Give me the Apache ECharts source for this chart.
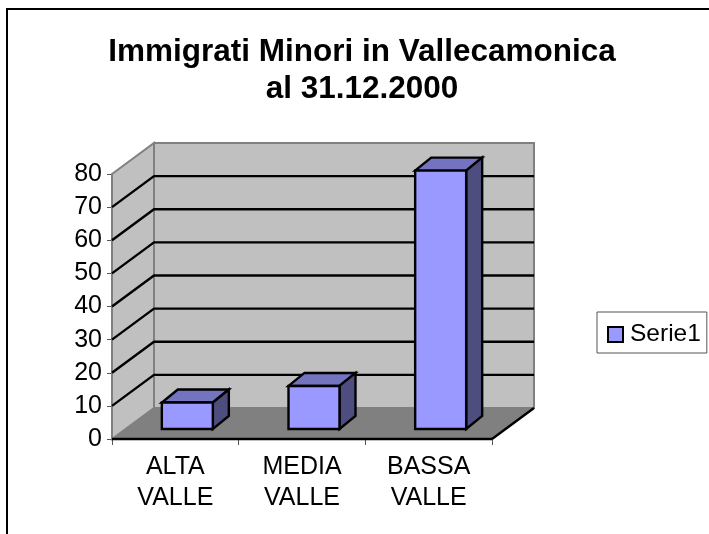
<!DOCTYPE html>
<html>
<head>
<meta charset="utf-8">
<title>Immigrati Minori in Vallecamonica</title>
<style>
    html, body {margin: 0; padding: 0; background: #fff;}
    #chart {width: 709px; height: 534px;}
</style>
<script src="https://cdn.jsdelivr.net/npm/echarts@6/dist/echarts.min.js"></script>
</head>
<body>
<div id="chart"></div>
<script>
const titleText = 'Immigrati Minori in Vallecamonica\nal 31.12.2000';
const categories = ['ALTA\nVALLE', 'MEDIA\nVALLE', 'BASSA\nVALLE'];
const seriesName = 'Serie1';
const values = [8, 13, 78];
const gridTicks = [10, 20, 30, 40, 50, 60, 70];

const fontName = '"Liberation Sans", Arial, sans-serif';

// finta prospettiva 3D, in pixel
const depthX = 42;
const depthY = 31;
const barShiftX = 12;
const barShiftY = 10;
const barWidth = 51;
const barDepthX = 16;
const barDepthY = 13;

const wallColor = '#c0c0c0';
const floorColor = '#808080';
const edgeColor = '#808080';

function poly(points, fill, stroke, width) {
    return {
        type: 'polygon',
        shape: {points: points},
        style: {fill: fill, stroke: stroke, lineWidth: width}
    };
}

function line(points) {
    return {
        type: 'polyline',
        shape: {points: points},
        style: {fill: 'none', stroke: '#000', lineWidth: 2.4}
    };
}

// pareti e pavimento
function renderWalls(params) {
    const c = params.coordSys;
    const x0 = c.x, x1 = c.x + c.width, y0 = c.y, y1 = c.y + c.height;
    return {
        type: 'group',
        children: [
            poly([[x0 + depthX, y0 - depthY], [x1 + depthX, y0 - depthY], [x1 + depthX, y1 - depthY], [x0 + depthX, y1 - depthY]], wallColor, edgeColor, 2),
            poly([[x0, y0], [x0 + depthX, y0 - depthY], [x0 + depthX, y1 - depthY], [x0, y1]], wallColor, edgeColor, 2),
            poly([[x0, y1], [x1, y1], [x1 + depthX, y1 - depthY], [x0 + depthX, y1 - depthY]], floorColor, edgeColor, 1),
            line([[x1, y1], [x1 + depthX, y1 - depthY]]),
            line([[x0, y1], [x1, y1]])
        ]
    };
}

function renderGridLine(params, api) {
    const c = params.coordSys;
    const y = api.coord([0, api.value(0)])[1];
    return line([
        [c.x, y],
        [c.x + depthX, y - depthY],
        [c.x + c.width + depthX, y - depthY]
    ]);
}

function renderBar(params, api) {
    const top = api.coord([api.value(0), api.value(1)]);
    const base = api.coord([api.value(0), 0]);
    const l = top[0] - barWidth / 2 + barShiftX;
    const r = l + barWidth;
    const t = top[1] - barShiftY;
    const b = base[1] - barShiftY;
    const dx = barDepthX, dy = barDepthY;
    return {
        type: 'group',
        children: [
            poly([[l, t], [r, t], [r + dx, t - dy], [l + dx, t - dy]], '#7373bf', '#000', 2.4),
            poly([[r, t], [r + dx, t - dy], [r + dx, b - dy], [r, b]], '#4d4d80', '#000', 2.4),
            poly([[l, t], [r, t], [r, b], [l, b]], '#9999ff', '#000', 2.4)
        ]
    };
}

const chart = echarts.init(document.getElementById('chart'));

chart.setOption({
    animation: false,
    title: {
        text: titleText,
        left: 357,
        top: 29,
        textAlign: 'center',
        textStyle: {
            fontFamily: fontName,
            fontSize: 31.5,
            fontWeight: 'bold',
            color: '#000',
            lineHeight: 37
        }
    },
    grid: {left: 112, right: 217, top: 174, bottom: 95},
    xAxis: {
        type: 'category',
        data: categories,
        z: 1,
        axisLine: {show: false},
        axisTick: {show: true, length: 6, lineStyle: {color: '#555', width: 1}},
        axisLabel: {
            margin: 13,
            fontFamily: fontName,
            fontSize: 25,
            lineHeight: 31,
            color: '#000'
        }
    },
    yAxis: {
        type: 'value',
        min: 0,
        max: 80,
        interval: 10,
        splitLine: {show: false},
        axisLine: {show: false},
        axisTick: {show: true, length: 5, lineStyle: {color: '#555', width: 1}},
        axisLabel: {
            margin: 10,
            fontFamily: fontName,
            fontSize: 25,
            color: '#000'
        }
    },
    legend: {
        left: 597,
        top: 312,
        data: [seriesName],
        orient: 'vertical',
        padding: [10, 6, 6, 10],
        itemWidth: 15,
        itemHeight: 15,
        itemGap: 0,
        borderColor: '#555',
        borderWidth: 1,
        icon: 'rect',
        itemStyle: {borderColor: '#000', borderWidth: 2},
        textStyle: {fontFamily: fontName, fontSize: 24.5, color: '#000', padding: [0, 0, 0, 2]}
    },
    graphic: [
        {type: 'line', silent: true, shape: {x1: 7, y1: 9, x2: 709, y2: 9}, style: {stroke: '#000', lineWidth: 2}},
        {type: 'line', silent: true, shape: {x1: 7, y1: 8, x2: 7, y2: 534}, style: {stroke: '#000', lineWidth: 2}}
    ],
    series: [
        {
            type: 'custom',
            name: 'pareti',
            data: [0],
            clip: false,
            z: 2,
            silent: true,
            renderItem: renderWalls
        },
        {
            type: 'custom',
            name: 'griglia',
            data: gridTicks,
            encode: {y: 0},
            clip: false,
            z: 3,
            silent: true,
            renderItem: renderGridLine
        },
        {
            type: 'custom',
            name: seriesName,
            data: values.map(function(v, i) {
                return [i, v];
            }),
            encode: {x: 0, y: 1},
            clip: false,
            z: 4,
            itemStyle: {color: '#9999ff'},
            renderItem: renderBar
        }
    ]
});
</script>
</body>
</html>
